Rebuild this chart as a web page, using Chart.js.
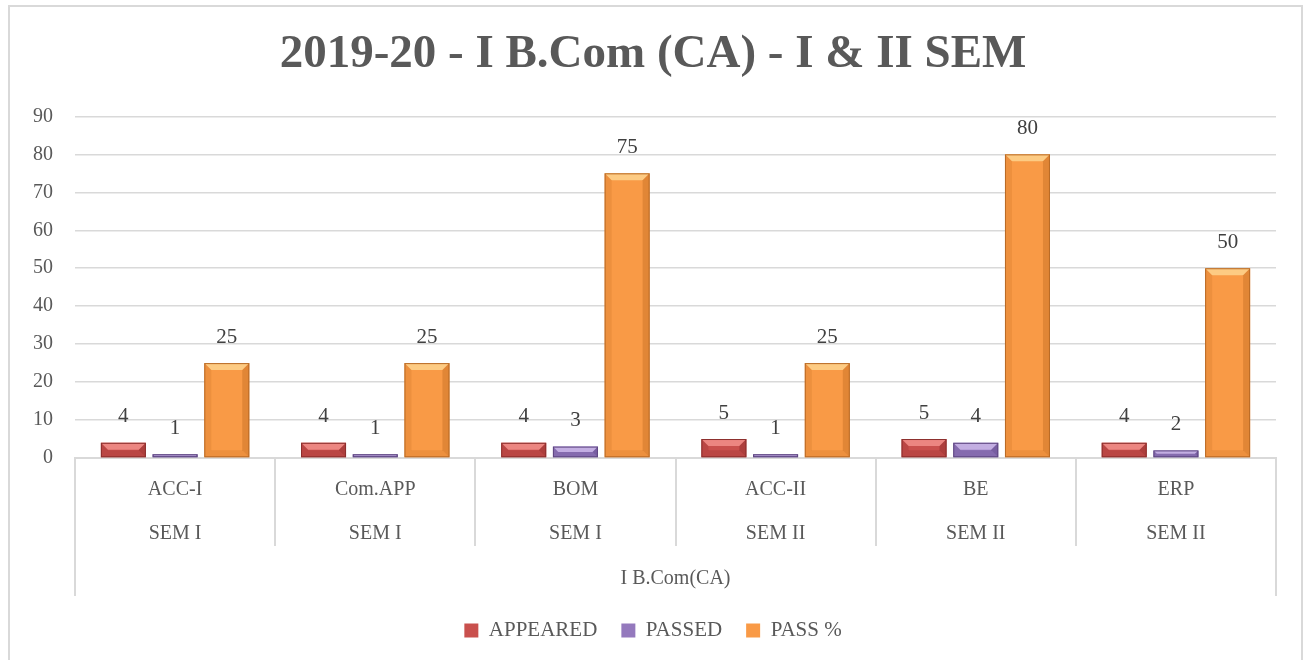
<!DOCTYPE html>
<html>
<head>
<meta charset="utf-8">
<script src="https://cdn.jsdelivr.net/npm/chart.js@4"></script>
<style>
  html, body { margin: 0; padding: 0; background: #fff; }
  #wrap { position: relative; width: 1306px; height: 660px; }
  #frame { position: absolute; left: 8px; top: 5px; width: 1295px; height: 660px;
           border: 2px solid #d9d9d9; border-bottom: none; box-sizing: border-box; pointer-events: none; }
  canvas { position: absolute; left: 0; top: 0; }
</style>
</head>
<body>
<div id="wrap">
  <canvas id="resultChart" width="1306" height="660"></canvas>
  <div id="frame"></div>
</div>
<script>
// chart values
var subjects = ['ACC-I', 'Com.APP', 'BOM', 'ACC-II', 'BE', 'ERP'];
var semesters = ['SEM I', 'SEM I', 'SEM I', 'SEM II', 'SEM II', 'SEM II'];
var groupLabel = ['I B.Com(CA)'];
var appeared = [4, 4, 4, 5, 5, 4];
var passed = [1, 1, 3, 1, 4, 2];
var passPercent = [25, 25, 75, 25, 80, 50];

var labelFont = 'Liberation Serif';
var textColor = '#595959';

// bevel look on top of each bar, like the office 3-D style
var bevelPlugin = {
    id: 'bevel',
    afterDatasetsDraw: function (chart) {
        var ctx = chart.ctx;
        chart.data.datasets.forEach(function (ds, i) {
            var meta = chart.getDatasetMeta(i);
            meta.data.forEach(function (bar) {
                var left = bar.x - bar.width / 2;
                var right = bar.x + bar.width / 2;
                var top = bar.y;
                var bottom = bar.base;
                var h = bottom - top;
                var b = Math.min(7, h / 2);
                ctx.save();
                // top light bevel
                ctx.fillStyle = ds.bevelLight;
                ctx.beginPath();
                ctx.moveTo(left, top);
                ctx.lineTo(right, top);
                ctx.lineTo(right - b, top + b);
                ctx.lineTo(left + b, top + b);
                ctx.closePath();
                ctx.fill();
                // side shades
                ctx.fillStyle = ds.bevelDark;
                ctx.beginPath();
                ctx.moveTo(right, top);
                ctx.lineTo(right, bottom);
                ctx.lineTo(right - b, bottom - b);
                ctx.lineTo(right - b, top + b);
                ctx.closePath();
                ctx.fill();
                ctx.globalAlpha = 0.5;
                ctx.beginPath();
                ctx.moveTo(left, top);
                ctx.lineTo(left, bottom);
                ctx.lineTo(left + b, bottom - b);
                ctx.lineTo(left + b, top + b);
                ctx.closePath();
                ctx.fill();
                ctx.beginPath();
                ctx.moveTo(left, bottom);
                ctx.lineTo(right, bottom);
                ctx.lineTo(right - b, bottom - b);
                ctx.lineTo(left + b, bottom - b);
                ctx.closePath();
                ctx.fill();
                ctx.restore();
                ctx.save();
                ctx.strokeStyle = ds.borderColor;
                ctx.lineWidth = 1;
                ctx.strokeRect(left + 0.5, top + 0.5, bar.width - 1, h - 1);
                ctx.restore();
            });
        });
    }
};

// value labels above the bars
var valueLabels = {
    id: 'valueLabels',
    afterDatasetsDraw: function (chart) {
        var ctx = chart.ctx;
        ctx.save();
        ctx.font = '21px "' + labelFont + '"';
        ctx.fillStyle = '#404040';
        ctx.textAlign = 'center';
        ctx.textBaseline = 'middle';
        chart.data.datasets.forEach(function (ds, i) {
            chart.getDatasetMeta(i).data.forEach(function (bar, j) {
                ctx.fillText(ds.data[j], bar.x, bar.y - 26);
            });
        });
        ctx.restore();
    }
};

var ctx = document.getElementById('resultChart').getContext('2d');

var resultChart = new Chart(ctx, {
    type: 'bar',
    data: {
        labels: subjects.map(function (s, i) { return [s, semesters[i]]; }),
        datasets: [
            {
                label: 'APPEARED',
                data: appeared,
                backgroundColor: '#c9504d',
                borderColor: '#8c2f2d',
                bevelLight: 'rgba(240,140,135,0.9)',
                bevelDark: 'rgba(120,30,28,0.35)',
                borderWidth: 0
            },
            {
                label: 'PASSED',
                data: passed,
                backgroundColor: '#9479bd',
                borderColor: '#5e4680',
                bevelLight: 'rgba(200,180,230,0.9)',
                bevelDark: 'rgba(70,45,110,0.35)',
                borderWidth: 0
            },
            {
                label: 'PASS %',
                data: passPercent,
                backgroundColor: '#f99a46',
                borderColor: '#b86a26',
                bevelLight: 'rgba(253,205,135,0.95)',
                bevelDark: 'rgba(170,90,20,0.3)',
                borderWidth: 0
            }
        ]
    },
    options: {
        responsive: false,
        animation: false,
        layout: {
            padding: { left: 0, right: 0, top: 0, bottom: 9 }
        },
        datasets: {
            bar: {
                categoryPercentage: 0.775,
                barPercentage: 0.87
            }
        },
        scales: {
            x: {
                offset: true,
                grid: {
                    offset: true,
                    drawOnChartArea: false,
                    drawTicks: true,
                    tickLength: 88,
                    color: '#d9d9d9',
                    lineWidth: 2
                },
                border: { display: true, color: '#d9d9d9', width: 2 },
                ticks: {
                    color: textColor,
                    font: { family: labelFont, size: 20, lineHeight: 2.2 },
                    padding: -78,
                    maxRotation: 0,
                    autoSkip: false
                },
                afterFit: function (scale) { scale.height = 88; }
            },
            x2: {
                type: 'category',
                labels: groupLabel,
                position: 'bottom',
                offset: true,
                grid: {
                    offset: true,
                    drawOnChartArea: false,
                    drawTicks: true,
                    tickLength: 50,
                    color: '#d9d9d9',
                    lineWidth: 2
                },
                border: { display: false },
                ticks: {
                    color: textColor,
                    font: { family: labelFont, size: 20 },
                    padding: -29
                },
                afterFit: function (scale) { scale.height = 50; }
            },
            y: {
                min: 0,
                max: 90,
                ticks: {
                    stepSize: 10,
                    color: textColor,
                    font: { family: labelFont, size: 20 },
                    padding: 22
                },
                grid: {
                    color: '#d9d9d9',
                    lineWidth: 1.5,
                    drawTicks: false
                },
                border: { display: false },
                afterFit: function (scale) { scale.width = 75; }
            },
            // empty right margin so the title stays centred on the page
            yRight: {
                type: 'linear',
                position: 'right',
                grid: { display: false, drawTicks: false },
                border: { display: false },
                ticks: { display: false },
                afterFit: function (scale) { scale.width = 30; }
            }
        },
        plugins: {
            title: {
                display: true,
                text: '2019-20 - I B.Com (CA) - I & II SEM',
                color: textColor,
                font: { family: labelFont, size: 47, weight: 'bold' },
                padding: { top: 27, bottom: 33 }
            },
            legend: {
                display: true,
                position: 'bottom',
                labels: {
                    color: textColor,
                    font: { family: labelFont, size: 21 },
                    boxWidth: 14,
                    boxHeight: 14,
                    padding: 24
                }
            },
            tooltip: { enabled: false }
        }
    },
    plugins: [bevelPlugin, valueLabels]
});
</script>
</body>
</html>
